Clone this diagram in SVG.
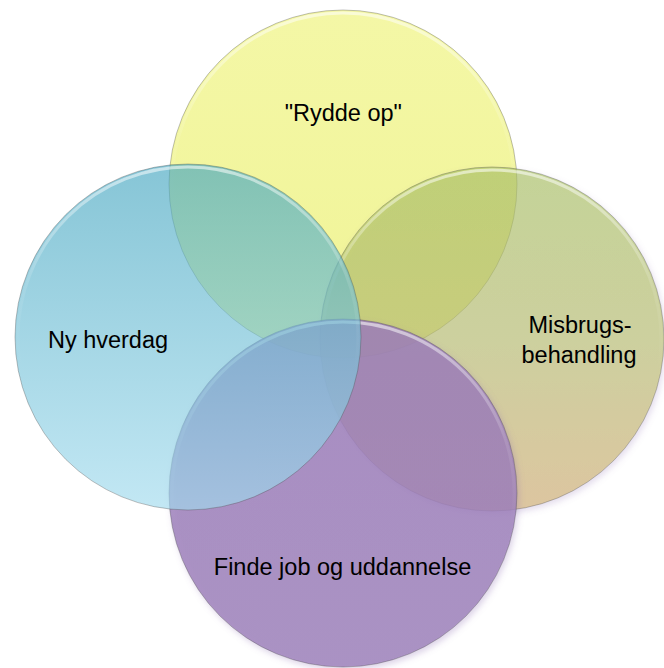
<svg xmlns="http://www.w3.org/2000/svg" width="664" height="668" viewBox="0 0 664 668">
  <style>
    .lbl { font-family: "Liberation Sans", Arial, sans-serif; font-size: 23.5px; fill: #000; text-anchor: middle; }
    .edge { fill: none; stroke: #4a4a4a; stroke-opacity: 0.35; stroke-width: 1; }
    .gloss { fill: none; stroke: url(#gloss); stroke-width: 3; }
  </style>
  <defs>
    <linearGradient id="gY" x1="0" y1="0" x2="0" y2="1">
      <stop offset="0" stop-color="#f4f7a6"/>
      <stop offset="1" stop-color="#f0f496"/>
    </linearGradient>
    <linearGradient id="gO" x1="0" y1="0" x2="0" y2="1">
      <stop offset="0" stop-color="#a8c060"/>
      <stop offset="0.5" stop-color="#b6bc6c"/>
      <stop offset="1" stop-color="#cfac70"/>
    </linearGradient>
    <linearGradient id="gP" x1="0" y1="0" x2="0" y2="1">
      <stop offset="0" stop-color="#9a7cb8"/>
      <stop offset="1" stop-color="#9c80ba"/>
    </linearGradient>
    <linearGradient id="gB" x1="0" y1="0" x2="0" y2="1">
      <stop offset="0" stop-color="#45a6c0"/>
      <stop offset="1" stop-color="#a2dbee"/>
    </linearGradient>
    <linearGradient id="gloss" x1="0" y1="0" x2="0" y2="1">
      <stop offset="0" stop-color="#ffffff" stop-opacity="0.55"/>
      <stop offset="0.35" stop-color="#ffffff" stop-opacity="0.1"/>
      <stop offset="0.6" stop-color="#ffffff" stop-opacity="0"/>
    </linearGradient>
    <filter id="sh" x="-10%" y="-10%" width="125%" height="125%">
      <feGaussianBlur in="SourceAlpha" stdDeviation="3"/>
      <feOffset dx="2" dy="3" result="b"/>
      <feFlood flood-color="#8a6ab0" flood-opacity="0.35"/>
      <feComposite in2="b" operator="in" result="s"/>
      <feComposite in="s" in2="SourceAlpha" operator="out" result="so"/>
      <feMerge><feMergeNode in="so"/><feMergeNode in="SourceGraphic"/></feMerge>
    </filter>
  </defs>

  <g id="node-rydde-op">
    <circle cx="343" cy="184" r="174" fill="url(#gY)"/>
    <circle cx="343" cy="184" r="171" class="gloss"/>
    <circle cx="343" cy="184" r="174" class="edge"/>
    <text class="lbl" x="343.3" y="120.5">"Rydde op"</text>
  </g>

  <g id="node-misbrugsbehandling">
    <circle cx="492" cy="339" r="172" fill="url(#gO)" fill-opacity="0.65" filter="url(#sh)"/>
    <circle cx="492" cy="339" r="169" class="gloss"/>
    <circle cx="492" cy="339" r="172" class="edge"/>
    <text class="lbl" x="580" y="333.3">Misbrugs-</text>
    <text class="lbl" x="579" y="363.3">behandling</text>
  </g>

  <g id="node-finde-job">
    <circle cx="343" cy="493" r="174" fill="url(#gP)" fill-opacity="0.85" filter="url(#sh)"/>
    <circle cx="343" cy="493" r="171" class="gloss"/>
    <circle cx="343" cy="493" r="174" class="edge"/>
    <text class="lbl" x="342.5" y="575">Finde job og uddannelse</text>
  </g>

  <g id="node-ny-hverdag">
    <circle cx="188" cy="337" r="173" fill="url(#gB)" fill-opacity="0.65"/>
    <circle cx="188" cy="337" r="170" class="gloss"/>
    <circle cx="188" cy="337" r="173" class="edge"/>
    <text class="lbl" x="108" y="348.3">Ny hverdag</text>
  </g>

  <g id="connectors"/>
</svg>
